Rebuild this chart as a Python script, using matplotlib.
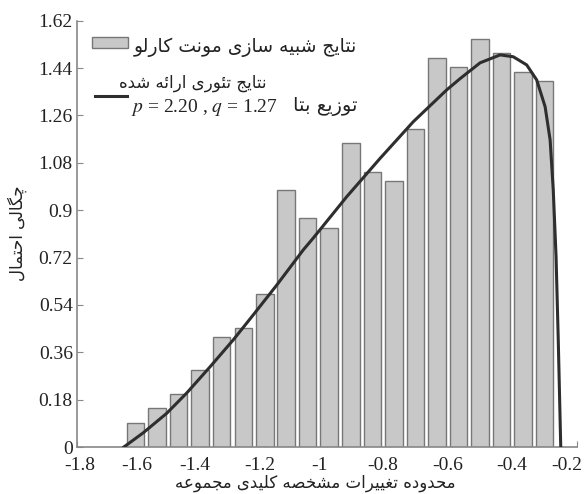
import matplotlib
matplotlib.use("Agg")
import matplotlib.pyplot as plt
from matplotlib.patches import Rectangle
from matplotlib.lines import Line2D
from matplotlib.transforms import ScaledTranslation

# histogram of the Monte Carlo results (bar centres and heights)
bar_x = [-1.613, -1.544, -1.475, -1.406, -1.337, -1.268, -1.199, -1.131, -1.062, -0.993,
         -0.924, -0.855, -0.786, -0.717, -0.648, -0.579, -0.511, -0.442, -0.373, -0.304]
bar_h = [0.092, 0.147, 0.203, 0.293, 0.417, 0.452, 0.581, 0.977, 0.869, 0.831,
         1.156, 1.046, 1.012, 1.210, 1.479, 1.444, 1.552, 1.498, 1.425, 1.391]

# theoretical beta curve
curve_x = [-1.650, -1.588, -1.513, -1.449, -1.374, -1.300, -1.236, -1.161, -1.076, -1.044,
           -0.937, -0.830, -0.724, -0.617, -0.574, -0.510, -0.446, -0.404, -0.361, -0.329,
           -0.302, -0.286, -0.276, -0.267, -0.260, -0.252]
curve_y = [0.0, 0.054, 0.128, 0.205, 0.305, 0.407, 0.502, 0.615, 0.749, 0.794,
           0.951, 1.097, 1.236, 1.357, 1.400, 1.460, 1.490, 1.483, 1.452, 1.395,
           1.293, 1.167, 0.977, 0.723, 0.407, 0.0]

xticks = [-1.8, -1.6, -1.4, -1.2, -1.0, -0.8, -0.6, -0.4, -0.2]
xtick_labels = ["-1.8", "-1.6", "-1.4", "-1.2", "-1", "-0.8", "-0.6", "-0.4", "-0.2"]
yticks = [0, 0.18, 0.36, 0.54, 0.72, 0.9, 1.08, 1.26, 1.44, 1.62]
ytick_labels = ["0", "0.18", "0.36", "0.54", "0.72", "0.9", "1.08", "1.26", "1.44", "1.62"]

label_bars = "نتایج شبیه سازی مونت کارلو"
label_curve1 = "نتایج تئوری ارائه شده"
label_curve2 = "توزیع بتا"
label_params = "$p$ = 2.20 , $q$ = 1.27"
xlabel = "محدوده تغییرات مشخصه کلیدی مجموعه"
ylabel = "چگالی احتمال"

# matplotlib has no arabic shaping, so pick the joined glyph forms by hand
# (isolated, final, initial, medial)
FORMS = {
    "ا": ("\uFE8D", "\uFE8E", None, None),
    "ب": ("\uFE8F", "\uFE90", "\uFE91", "\uFE92"),
    "ت": ("\uFE95", "\uFE96", "\uFE97", "\uFE98"),
    "ج": ("\uFE9D", "\uFE9E", "\uFE9F", "\uFEA0"),
    "ح": ("\uFEA1", "\uFEA2", "\uFEA3", "\uFEA4"),
    "خ": ("\uFEA5", "\uFEA6", "\uFEA7", "\uFEA8"),
    "د": ("\uFEA9", "\uFEAA", None, None),
    "ر": ("\uFEAD", "\uFEAE", None, None),
    "ز": ("\uFEAF", "\uFEB0", None, None),
    "س": ("\uFEB1", "\uFEB2", "\uFEB3", "\uFEB4"),
    "ش": ("\uFEB5", "\uFEB6", "\uFEB7", "\uFEB8"),
    "ص": ("\uFEB9", "\uFEBA", "\uFEBB", "\uFEBC"),
    "ع": ("\uFEC9", "\uFECA", "\uFECB", "\uFECC"),
    "غ": ("\uFECD", "\uFECE", "\uFECF", "\uFED0"),
    "ل": ("\uFEDD", "\uFEDE", "\uFEDF", "\uFEE0"),
    "م": ("\uFEE1", "\uFEE2", "\uFEE3", "\uFEE4"),
    "ن": ("\uFEE5", "\uFEE6", "\uFEE7", "\uFEE8"),
    "ه": ("\uFEE9", "\uFEEA", "\uFEEB", "\uFEEC"),
    "و": ("\uFEED", "\uFEEE", None, None),
    "ئ": ("\uFE89", "\uFE8A", "\uFE8B", "\uFE8C"),
    "چ": ("\uFB7A", "\uFB7B", "\uFB7C", "\uFB7D"),
    "ک": ("\uFB8E", "\uFB8F", "\uFB90", "\uFB91"),
    "گ": ("\uFB92", "\uFB93", "\uFB94", "\uFB95"),
    "ی": ("\uFBFC", "\uFBFD", "\uFBFE", "\uFBFF"),
}


def shape_fa(s):
    words = []
    for word in s.split(" "):
        res = []
        for i, c in enumerate(word):
            if c not in FORMS:
                res.append(c)
                continue
            prev = word[i - 1] if i > 0 else None
            nxt = word[i + 1] if i < len(word) - 1 else None
            jp = prev in FORMS and FORMS[prev][2] is not None
            jn = FORMS[c][2] is not None and nxt in FORMS
            iso, fin, ini, med = FORMS[c]
            if jp and jn:
                res.append(med)
            elif jp:
                res.append(fin)
            elif jn:
                res.append(ini)
            else:
                res.append(iso)
        words.append("".join(res))
    return " ".join(words)[::-1]


plt.rcParams["mathtext.fontset"] = "stix"
serif = ["Liberation Serif", "DejaVu Serif"]
fa_font = ["DejaVu Sans"]
W, H = 584, 494

fig = plt.figure(figsize=(5.84, 4.94), dpi=100)
ax = fig.add_axes([77 / W, 1 - 447 / H, 500 / W, (447 - 20.7) / H])

ax.bar(bar_x, bar_h, width=0.056, color="#c8c8c8", edgecolor="#777777", linewidth=1.0, zorder=2)
ax.plot(curve_x, curve_y, color="#2e2e2e", linewidth=2.2, zorder=3,
        solid_joinstyle="round")

ax.set_xlim(-1.8, -0.2)
ax.set_ylim(0, 1.62)
ax.set_xticks(xticks)
ax.set_xticklabels(xtick_labels, fontfamily=serif, fontsize=14)
ax.set_yticks(yticks)
ax.set_yticklabels(ytick_labels, fontfamily=serif, fontsize=14)
ax.tick_params(direction="in", length=4, color="#888888", pad=3, labelcolor="#222222")
ax.tick_params(axis="x", pad=7)
for side in ["top", "right"]:
    ax.spines[side].set_visible(False)
for side in ["left", "bottom"]:
    ax.spines[side].set_color("#888888")
    ax.spines[side].set_linewidth(1.2)

# the tick labels in the source sit a little left of their ticks
label_shift = [3, -2.5, -7, -4.5, -7, -6.5, -4, -2.5, -10]
for lab, dx in zip(ax.get_xticklabels(), label_shift):
    lab.set_transform(lab.get_transform() + ScaledTranslation(dx / 100, 0, fig.dpi_scale_trans))

# axis titles
fig.text(315 / W, 1 - 483 / H, shape_fa(xlabel), family=fa_font, fontsize=12,
         ha="center", va="center", color="#222222")
fig.text(17 / W, 1 - 233 / H, shape_fa(ylabel), family=fa_font, fontsize=12,
         rotation=90, ha="center", va="center", color="#222222")

# legend drawn by hand
fig.add_artist(Rectangle((92 / W, 1 - 48 / H), 36 / W, 11 / H, transform=fig.transFigure,
                         facecolor="#c8c8c8", edgecolor="#777777", linewidth=1.0))
fig.add_artist(Line2D([95 / W, 127 / W], [1 - 96 / H, 1 - 96 / H], transform=fig.transFigure,
                      color="#2e2e2e", linewidth=2.2))
fig.text(357 / W, 1 - 47 / H, shape_fa(label_bars), family=fa_font, fontsize=13.5,
         ha="right", va="center", color="#222222")
fig.text(267 / W, 1 - 83 / H, shape_fa(label_curve1), family=fa_font, fontsize=12,
         ha="right", va="center", color="#222222")
fig.text(357 / W, 1 - 107 / H, shape_fa(label_curve2), family=fa_font, fontsize=14,
         ha="right", va="center", color="#222222")
fig.text(278 / W, 1 - 107 / H, label_params, family=serif, fontsize=14,
         ha="right", va="center", color="#222222")

fig.savefig("out.png", dpi=100)
